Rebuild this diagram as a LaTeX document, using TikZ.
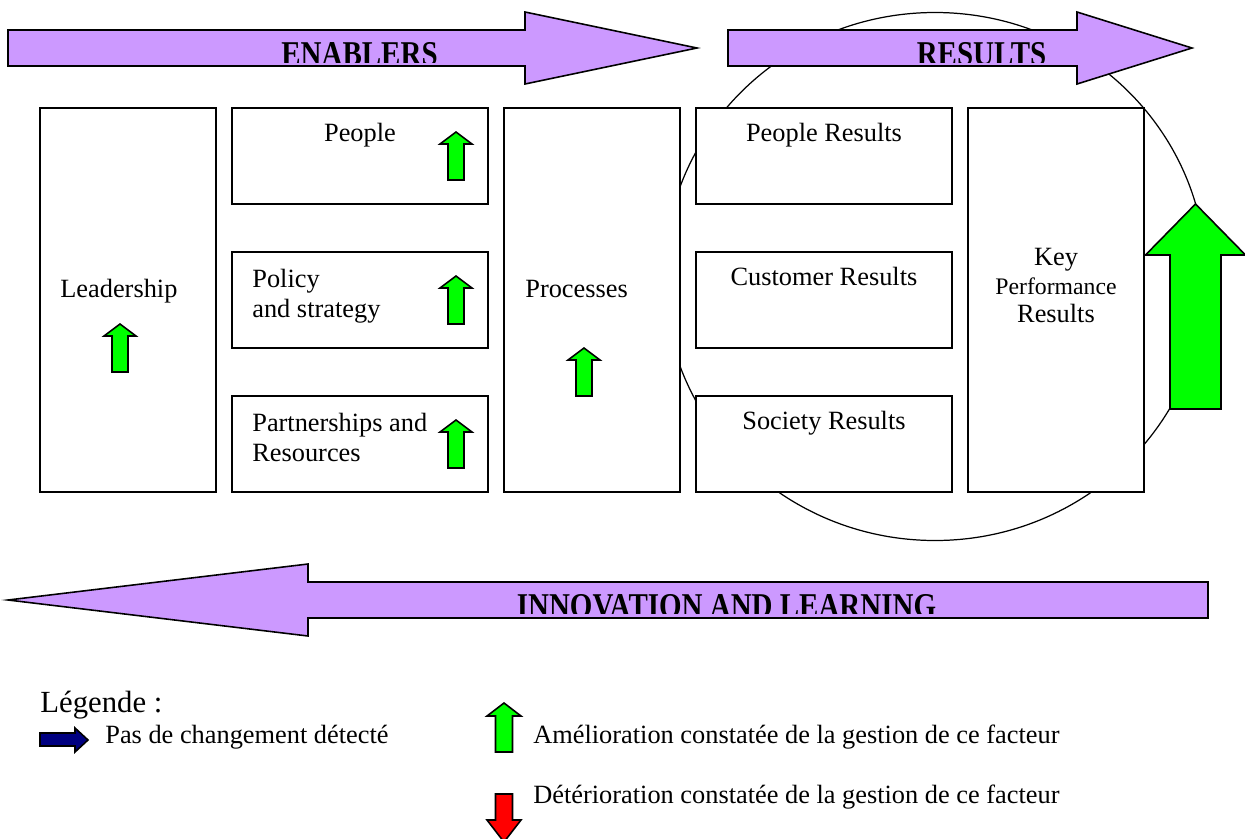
\documentclass[tikz,border=0pt]{standalone}
\usepackage{fontspec}
\setmainfont{Liberation Serif}
\definecolor{lav}{HTML}{CC99FF}
\definecolor{arrgreen}{HTML}{00FF00}
\definecolor{arrblue}{HTML}{000080}
\definecolor{arrred}{HTML}{FF0000}
\newcommand\UpArr[7]{%
  \draw[#7] (#1,#2) -- ({#1+#3},{#2+#4}) -- ({#1+#5},{#2+#4}) -- ({#1+#5},{#2+#6})
    -- ({#1-#5},{#2+#6}) -- ({#1-#5},{#2+#4}) -- ({#1-#3},{#2+#4}) -- cycle;}
\newcommand\DownArr[7]{%
  \draw[#7] (#1,{#2+#6}) -- ({#1+#3},{#2+#6-#4}) -- ({#1+#5},{#2+#6-#4}) -- ({#1+#5},#2)
    -- ({#1-#5},#2) -- ({#1-#5},{#2+#6-#4}) -- ({#1-#3},{#2+#6-#4}) -- cycle;}
\begin{document}
\begin{tikzpicture}[x=0.02cm,y=-0.02cm,
  box/.style={draw=black,line width=0.9pt,fill=white,inner sep=0pt,outer sep=0pt},
  bigarrow/.style={draw=black,line width=0.9pt,fill=lav,line join=miter},
  grarrow/.style={draw=black,line width=0.9pt,fill=arrgreen,line join=miter},
  redarrow/.style={draw=black,line width=0.9pt,fill=arrred,line join=miter},
  bluearrow/.style={draw=black,line width=0.9pt,fill=arrblue,line join=miter},
  txt/.style={font=\fontsize{15}{17}\selectfont,inner sep=0pt},
  smalltxt/.style={font=\fontsize{13.5}{16}\selectfont,inner sep=0pt},
  legtitle/.style={font=\fontsize{17.5}{20}\selectfont,inner sep=0pt},
  headtxt/.style={font=\fontsize{16.5}{18}\selectfont\bfseries,inner sep=0pt,yscale=1.2}]
\useasboundingbox[fill=white] (0,0) rectangle (1245,839);

% circle behind everything
\draw[line width=0.7pt] (935,276.5) ellipse [x radius=271, y radius=264];

% boxes
\node[box,minimum width=3.52cm,minimum height=7.68cm] (lead) at (128,300) {};
\node[box,minimum width=5.12cm,minimum height=1.92cm] (people) at (360,156) {};
\node[box,minimum width=5.12cm,minimum height=1.92cm] (policy) at (360,300) {};
\node[box,minimum width=5.12cm,minimum height=1.92cm] (partner) at (360,444) {};
\node[box,minimum width=3.52cm,minimum height=7.68cm] (proc) at (592,300) {};
\node[box,minimum width=5.12cm,minimum height=1.92cm] (pres) at (824,156) {};
\node[box,minimum width=5.12cm,minimum height=1.92cm] (cres) at (824,300) {};
\node[box,minimum width=5.12cm,minimum height=1.92cm] (sres) at (824,444) {};
\node[box,minimum width=3.52cm,minimum height=7.68cm] (kpr) at (1056,300) {};

% box texts
\node[txt,anchor=base west] (leadtxt) at (60,297) {Leadership};
\node[txt,anchor=base] (peopletxt) at (360,141) {People};
\node[txt,anchor=base west] (policytxt1) at (252,287) {Policy};
\node[txt,anchor=base west] (policytxt2) at (252,317) {and strategy};
\node[txt,anchor=base west] (partnertxt1) at (252,431) {Partnerships and};
\node[txt,anchor=base west] (partnertxt2) at (252,461) {Resources};
\node[txt,anchor=base west] (proctxt) at (525,297) {Processes};
\node[txt,anchor=base] (prestxt) at (824,141) {People Results};
\node[txt,anchor=base] (crestxt) at (824,285) {Customer Results};
\node[txt,anchor=base] (srestxt) at (824,429) {Society Results};
\node[txt,anchor=base] (kprtxt1) at (1056,265) {Key};
\node[smalltxt,anchor=base] (kprtxt2) at (1056,294) {Performance};
\node[txt,anchor=base] (kprtxt3) at (1056,322) {Results};

% big purple arrows
\draw[bigarrow] (8,30) -- (525,30) -- (525,12) -- (697,48) -- (525,84) -- (525,66) -- (8,66) -- cycle;
\begin{scope}
  \clip (8,30) rectangle (525,62);
  \node[headtxt,anchor=base] (enabtxt) at (359.5,65) {ENABLERS};
\end{scope}
\draw[bigarrow] (728,30) -- (1077,30) -- (1077,12) -- (1192,48) -- (1077,84) -- (1077,66) -- (728,66) -- cycle;
\begin{scope}
  \clip (728,30) rectangle (1077,62);
  \node[headtxt,anchor=base] (restxt) at (981.5,65) {RESULTS};
\end{scope}
\draw[bigarrow] (8,600) -- (308,564) -- (308,582) -- (1208,582) -- (1208,618) -- (308,618) -- (308,636) -- cycle;
\begin{scope}
  \clip (308,582) rectangle (1208,613);
  \node[headtxt,anchor=base] (innotxt) at (726.5,617) {INNOVATION AND LEARNING};
\end{scope}

% small green arrows
\UpArr{456}{132}{16}{12}{8}{48}{grarrow}
\UpArr{456}{276}{16}{12}{8}{48}{grarrow}
\UpArr{456}{420}{16}{12}{8}{48}{grarrow}
\UpArr{584}{348}{16}{12}{8}{48}{grarrow}
\UpArr{120}{324}{16}{12}{8}{48}{grarrow}
% big green arrow
\UpArr{1195.5}{204}{50}{51}{25.5}{205}{grarrow}

% legend
\node[legtitle,anchor=base west] (legtitle) at (40,712) {Légende :};
\draw[bluearrow] (40,733) -- (75,733) -- (75,728) -- (88,740) -- (75,752) -- (75,746) -- (40,746) -- cycle;
\node[txt,anchor=base west] (legblue) at (105,743) {Pas de changement détecté};
\UpArr{504}{703}{17}{13}{8.5}{49}{grarrow}
\node[txt,anchor=base west] (leggreen) at (533,743) {Amélioration constatée de la gestion de ce facteur};
\DownArr{504}{794}{17}{22}{8.5}{48}{redarrow}
\node[txt,anchor=base west] (legred) at (533,803) {Détérioration constatée de la gestion de ce facteur};
\end{tikzpicture}
\end{document}
